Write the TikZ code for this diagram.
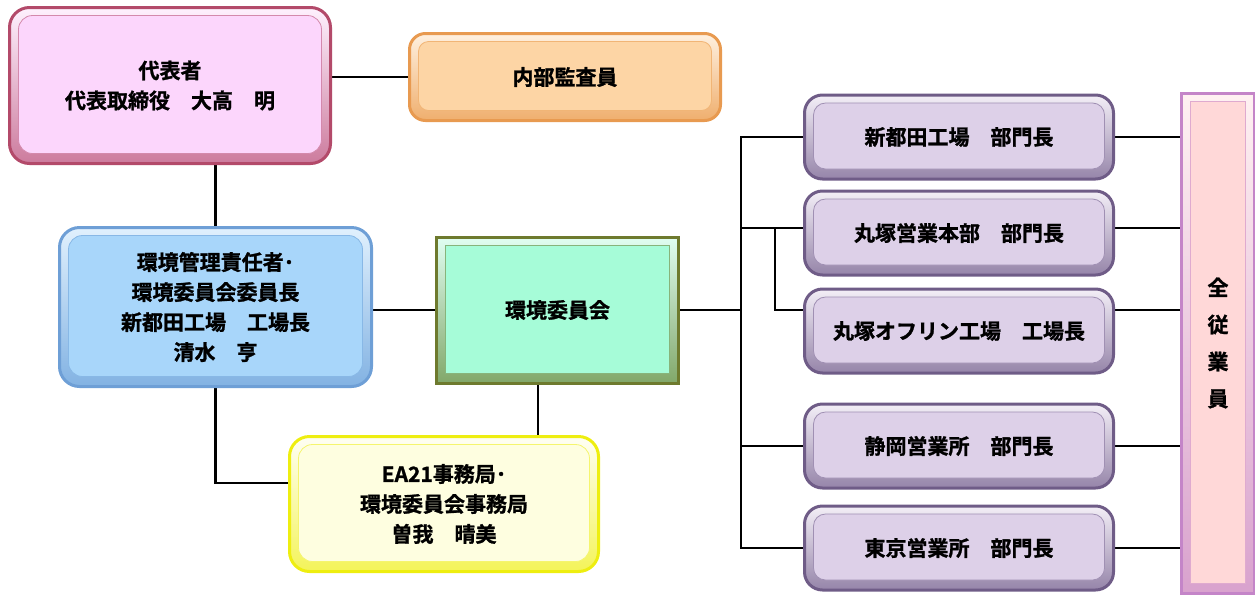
\documentclass[tikz,border=0pt]{standalone}
\usepackage{fontspec}
\setmainfont{Noto Sans CJK JP}[BoldFont={* Bold}, BoldFeatures={FakeBold=1.2}]
\usetikzlibrary{backgrounds,calc}
\definecolor{repF}{HTML}{FCD6FC}\definecolor{repB}{HTML}{B34A6A}
\definecolor{audF}{HTML}{FDD5A5}\definecolor{audB}{HTML}{E89A50}
\definecolor{envF}{HTML}{A8D6FA}\definecolor{envB}{HTML}{6E9FD6}
\definecolor{comF}{HTML}{A6FCD8}\definecolor{comB}{HTML}{6E7A2E}
\definecolor{eaF}{HTML}{FEFEE0}\definecolor{eaB}{HTML}{EEEE10}
\definecolor{depF}{HTML}{DDD0E8}\definecolor{depB}{HTML}{6F5C87}
\definecolor{stfF}{HTML}{FFD8D8}\definecolor{stfB}{HTML}{C485C8}
\tikzset{
  bevel/.style n args={4}{rounded corners=#3, draw=#2, line width=3pt,
    top color=#1!35!white, bottom color=#2!65!#1, inner sep=0pt,
    font=\fontsize{21}{30}\selectfont\bfseries, align=center, text=black,
    path picture={\draw[line width=0.8pt, draw=#2!55!#1, fill=#1, rounded corners=#4]
      ([shift={(9pt,-8pt)}]path picture bounding box.north west) rectangle
      ([shift={(-9pt,10pt)}]path picture bounding box.south east);}},
  dept/.style={bevel={depF}{depB}{18pt}{12pt}, minimum width=309pt, minimum height=84pt},
  conn/.style={line width=2.8pt, black}
}
\begin{document}
\begin{tikzpicture}[x=1pt,y=-1pt]
\useasboundingbox (0,0) rectangle (1255,595);
\node[bevel={repF}{repB}{20pt}{14pt}, minimum width=321pt, minimum height=156pt] (rep) at (170,85.5) {代表者\\代表取締役　大高　明};
\node[bevel={audF}{audB}{16pt}{10pt}, minimum width=311pt, minimum height=87pt] (aud) at (565,77) {内部監査員};
\node[bevel={envF}{envB}{20pt}{14pt}, minimum width=312pt, minimum height=159pt] (env) at (215.5,307) {環境管理責任者･\\環境委員会委員長\\新都田工場　工場長\\清水　亨};
\node[bevel={comF}{comB}{0pt}{0pt}, minimum width=242pt, minimum height=146pt] (com) at (557.5,310) {環境委員会};
\node[bevel={eaF}{eaB}{20pt}{14pt}, minimum width=309pt, minimum height=135pt] (ea) at (444,504) {EA21事務局･\\環境委員会事務局\\曽我　晴美};
\node[dept] (b1) at (959,137) {新都田工場　部門長};
\node[dept] (b2) at (959,233) {丸塚営業本部　部門長};
\node[dept] (b3) at (959,331) {丸塚オフリン工場　工場長};
\node[dept] (b4) at (959,446) {静岡営業所　部門長};
\node[dept] (b5) at (959,548) {東京営業所　部門長};
\node[bevel={stfF}{stfB}{0pt}{0pt}, minimum width=73pt, minimum height=500pt, font=\fontsize{21}{37}\selectfont\bfseries] (stf) at (1218,343) {全\\従\\業\\員};
\coordinate (tk) at (741,310);
\coordinate (br) at (775,228);
\begin{scope}[on background layer]
\draw[conn] (aud.west -| rep.east) -- (aud.west);
\draw[conn] (env.north |- rep.south) -- (env.north);
\draw[conn] (com.west -| env.east) -- (com.west);
\draw[conn] (env.south) |- ([yshift=21pt]ea.west);
\draw[conn] ([xshift=-19.5pt]com.south) -- ([xshift=-19.5pt]com.south |- ea.north);
\draw[conn] (com.east) -- (tk);
\draw[conn] (b1.west) -| (tk) |- (b5.west);
\draw[conn] ([yshift=5pt]b2.west) -- ([yshift=5pt]b2.west -| tk);
\draw[conn] (b4.west) -- (b4.west -| tk);
\draw[conn] (br) |- ([yshift=21pt]b3.west);
\draw[conn] (b1.east) -- (b1.east -| stf.west);
\draw[conn] ([yshift=5pt]b2.east) -- ([yshift=5pt]b2.east -| stf.west);
\draw[conn] ([yshift=21pt]b3.east) -- ([yshift=21pt]b3.east -| stf.west);
\draw[conn] (b4.east) -- (b4.east -| stf.west);
\draw[conn] (b5.east) -- (b5.east -| stf.west);
\end{scope}
\end{tikzpicture}
\end{document}
